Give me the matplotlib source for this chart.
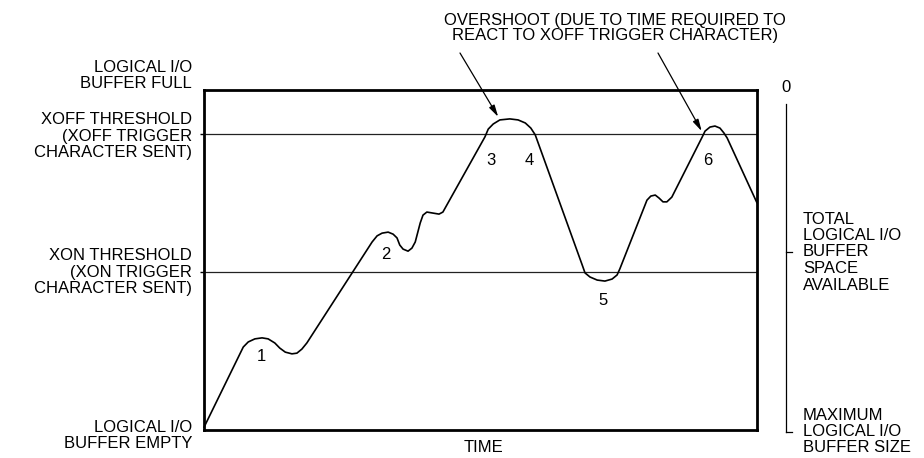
import matplotlib
matplotlib.use("Agg")
import matplotlib.pyplot as plt
from matplotlib.lines import Line2D

plt.rcParams['font.family'] = ['Liberation Sans', 'DejaVu Sans']

# Buffer fill level (percent of logical I/O buffer) over time (percent of window)
curve_time = [0.0, 7.1, 8.0, 9.2, 10.5, 11.6, 12.8, 13.7, 14.7, 15.9, 16.8, 17.7, 18.6,
              30.4, 31.3, 32.2, 33.3, 34.2, 34.9, 35.4, 36.0, 36.9, 37.6, 38.2, 39.1,
              39.6, 40.3, 41.4, 42.5, 43.2,
              50.8, 51.4, 52.3, 53.5, 55.3, 56.8, 58.1, 59.1, 59.9,
              68.4, 68.9, 69.8, 71.1, 72.5, 73.8, 74.7, 75.2,
              80.1, 80.8, 81.6, 82.3, 83.0, 83.7, 84.6,
              90.1, 90.6, 91.5, 92.4, 93.3, 94.0, 94.6, 100.0]
curve_level = [0.8, 24.4, 25.9, 26.8, 27.1, 26.8, 25.6, 24.1, 22.9, 22.4, 22.6, 23.8, 25.6,
               55.3, 57.1, 57.9, 58.2, 57.6, 56.5, 54.4, 53.2, 52.6, 53.5, 55.3, 60.9,
               63.2, 64.1, 63.8, 63.5, 64.1,
               86.2, 88.5, 90.0, 91.2, 91.5, 91.2, 90.3, 88.8, 86.8,
               48.5, 46.2, 45.0, 44.1, 43.8, 44.4, 45.6, 47.4,
               67.6, 68.8, 69.1, 68.2, 67.1, 67.1, 68.5,
               86.2, 87.9, 89.1, 89.4, 88.8, 87.4, 85.9, 66.8]

xoff_level = 87.0
xon_level = 46.5

event_labels = ['1', '2', '3', '4', '5', '6']
event_time = [10.3, 32.9, 51.9, 58.9, 72.2, 91.1]
event_level = [21.5, 51.5, 79.4, 79.4, 38.2, 79.4]

# Peaks pointed at by the overshoot note
overshoot_time = [53.2, 90.0]
overshoot_level = [92.1, 87.9]

left_labels = [
    ["LOGICAL I/O", "BUFFER FULL"],
    ["XOFF THRESHOLD", "(XOFF TRIGGER", "CHARACTER SENT)"],
    ["XON THRESHOLD", "(XON TRIGGER", "CHARACTER SENT)"],
    ["LOGICAL I/O", "BUFFER EMPTY"],
]
right_labels = [
    ["TOTAL", "LOGICAL I/O", "BUFFER", "SPACE", "AVAILABLE"],
    ["MAXIMUM", "LOGICAL I/O", "BUFFER SIZE"],
]
overshoot_text = ["OVERSHOOT (DUE TO TIME REQUIRED TO", "REACT TO XOFF TRIGGER CHARACTER)"]

W, H = 924, 458
fig = plt.figure(figsize=(W / 100, H / 100), dpi=100)
fig.patch.set_facecolor('white')


def fx(px):
    return px / W


def fy(py):
    return 1 - py / H


ax = fig.add_axes([fx(204), fy(430), (757 - 204) / W, (430 - 90) / H])
ax.set_xlim(0, 100)
ax.set_ylim(0, 100)
for s in ax.spines.values():
    s.set_linewidth(2.0)
    s.set_color('black')
ax.set_xticks([])
ax.set_yticks([xon_level, xoff_level])
ax.set_yticklabels([])
ax.tick_params(axis='y', direction='out', length=3, width=1)

ax.axhline(xoff_level, color='#222222', lw=0.9)
ax.axhline(xon_level, color='#222222', lw=0.9)
ax.plot(curve_time, curve_level, color='black', lw=1.2, solid_capstyle='round',
        solid_joinstyle='round', clip_on=False)

fs = 12
for lab, t, v in zip(event_labels, event_time, event_level):
    ax.text(t, v, lab, ha='center', va='center', fontsize=12)

# Overshoot note with arrows to the two peaks
for i, line in enumerate(overshoot_text):
    fig.text(fx(615), fy(20 + 15.5 * i), line, ha='center', va='center', fontsize=fs)
for (t, v), start in zip(zip(overshoot_time, overshoot_level), [(460, 53), (658, 53)]):
    ax.annotate('', xy=(t, v), xycoords='data',
                xytext=(fx(start[0]), fy(start[1])), textcoords='figure fraction',
                arrowprops=dict(arrowstyle='-|>,head_length=0.7,head_width=0.18',
                                color='black', lw=0.9, shrinkA=0, shrinkB=0))

# Left-hand level labels
left_y = [[67, 83.5], [120, 136.5, 153], [256, 272.5, 289], [427, 443.5]]
for group, ys in zip(left_labels, left_y):
    for line, y in zip(group, ys):
        fig.text(fx(192), fy(y), line, ha='right', va='center', fontsize=fs)

fig.text(fx(484), fy(447), "TIME", ha='center', va='center', fontsize=fs)

# Right-hand bracket for buffer space
fig.text(fx(786), fy(88), "0", ha='center', va='center', fontsize=fs)
bx = 786
fig.add_artist(Line2D([fx(bx), fx(bx)], [fy(104), fy(432)], color='black', lw=0.9))
fig.add_artist(Line2D([fx(bx), fx(bx + 6)], [fy(432), fy(432)], color='black', lw=0.9))
fig.add_artist(Line2D([fx(bx), fx(bx + 6)], [fy(252), fy(252)], color='black', lw=0.9))

right_y = [[219, 235.5, 252, 268.5, 285], [415, 431.5, 448]]
for group, ys in zip(right_labels, right_y):
    for line, y in zip(group, ys):
        fig.text(fx(803), fy(y), line, ha='left', va='center', fontsize=fs)

fig.savefig('out.png', dpi=100, facecolor='white')
